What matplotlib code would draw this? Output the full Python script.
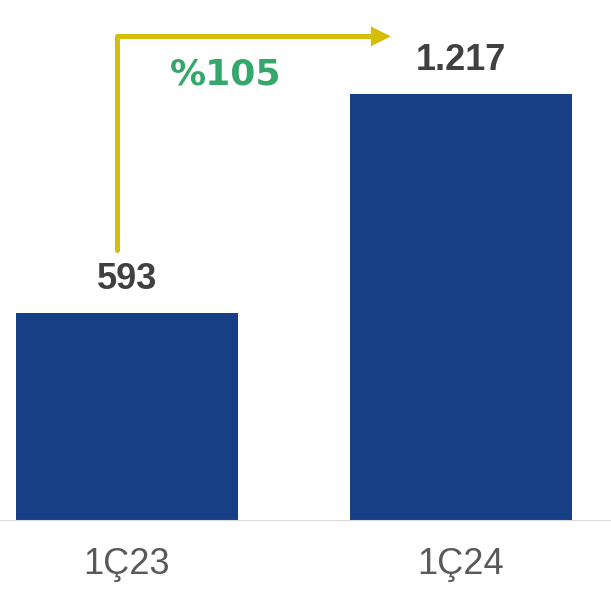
import matplotlib.pyplot as plt

# Quarterly values
periods = ['1Ç23', '1Ç24']
values = [593, 1217]
value_labels = ['593', '1.217']
growth_label = '%105'

BAR_COLOR = '#173F86'
ARROW_COLOR = '#D4BE0A'
GROWTH_COLOR = '#34A86A'
LABEL_COLOR = '#404040'
TICK_COLOR = '#595959'

plt.rcParams['font.family'] = ['Liberation Sans', 'DejaVu Sans']

fig = plt.figure(figsize=(6.11, 5.91), dpi=100)
ax = fig.add_axes([0, 70 / 591, 1, 521 / 591])

x = list(range(len(values)))
ax.bar(x, values, width=0.665, color=BAR_COLOR, zorder=2)
ax.set_xlim(-0.38, 1.449)
ax.set_ylim(0, 1485)

# value labels above each bar
for xi, v, lab in zip(x, values, value_labels):
    ax.text(xi, v + 45, lab, ha='center', va='bottom', fontsize=26,
            fontweight='bold', color=LABEL_COLOR)

# baseline
ax.axhline(0, color='#D9D9D9', lw=1.5, zorder=3)

# growth arrow: up from the first bar label, across toward the second
x0 = x[0] - 0.03
y0 = values[0] + 180
y1 = max(values) * 1.135
x_head = 0.735
x_end = 0.79
ax.plot([x0, x0, x_head], [y0, y1, y1], color=ARROW_COLOR, lw=3.6,
        solid_joinstyle='round', solid_capstyle='round', zorder=4)
ax.annotate('', xy=(x_end, y1), xytext=(x_head - 0.01, y1),
            arrowprops=dict(arrowstyle='-|>,head_length=14.4,head_width=7.2',
                            mutation_scale=1, color=ARROW_COLOR, lw=0,
                            shrinkA=0, shrinkB=0), zorder=4)
ax.text(0.295, y1 - 110, growth_label, ha='center', va='center', fontsize=26,
        fontweight='bold', color=GROWTH_COLOR, family='DejaVu Sans')

# category labels below the axis
for xi, p in zip(x, periods):
    ax.text(xi, -125, p, ha='center', va='center', fontsize=26,
            color=TICK_COLOR, clip_on=False)

ax.axis('off')
fig.savefig('out.png', dpi=100)
